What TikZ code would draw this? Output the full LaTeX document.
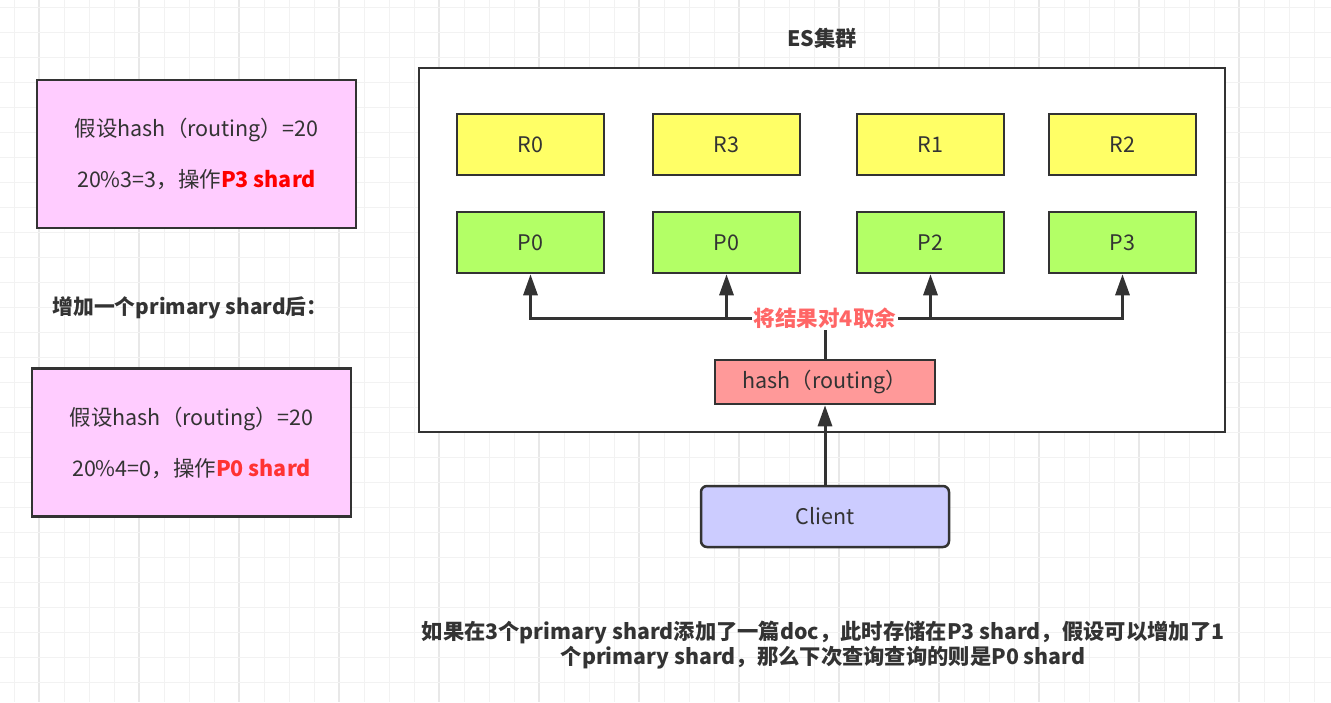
\documentclass[tikz,border=0pt]{standalone}
\usepackage{fontspec}
\setmainfont{Noto Sans CJK SC}
\usetikzlibrary{arrows.meta}
\definecolor{ink}{HTML}{333333}
\definecolor{gridminor}{HTML}{F2F2F2}
\definecolor{gridmajor}{HTML}{E8E8E8}
\definecolor{pinkfill}{HTML}{FFCCFF}
\definecolor{yellowfill}{HTML}{FFFF66}
\definecolor{greenfill}{HTML}{B3FF66}
\definecolor{hashfill}{HTML}{FF9999}
\definecolor{clientfill}{HTML}{CCCCFF}
\definecolor{labelred}{HTML}{FF6666}
\definecolor{redA}{HTML}{FF0000}
\definecolor{redB}{HTML}{FF3333}
\begin{document}
\begin{tikzpicture}[x=1pt,y=-1pt,
  every node/.style={text=ink, font=\fontsize{21.5}{25}\selectfont},
  box/.style={draw=ink, line width=2.5pt, inner sep=0pt, align=center},
  notebox/.style={box, fill=pinkfill, minimum width=319pt, minimum height=148pt,
    font=\fontsize{21.5}{51}\selectfont},
  shardR/.style={box, fill=yellowfill, minimum width=147pt, minimum height=61pt},
  shardP/.style={box, fill=greenfill, minimum width=147pt, minimum height=61pt},
  conn/.style={draw=ink, line width=3pt},
  arr/.style={conn, -{Triangle[length=21pt,width=14pt]}},
  boldtext/.style={font=\fontsize{21.3}{25.5}\selectfont\bfseries, align=center}
]
\useasboundingbox (0,0) rectangle (1331,702);
\fill[white] (0,0) rectangle (1331,702);
% grid
\foreach \k in {0,...,53} {
  \pgfmathsetmacro{\gx}{14+25*\k}
  \ifnum\numexpr\k-4*(\k/4)\relax=1
    \draw[gridmajor, line width=1.2pt] (\gx,0) -- (\gx,702);
  \else
    \draw[gridminor, line width=1pt] (\gx,0) -- (\gx,702);
  \fi
}
\foreach \k in {0,...,27} {
  \pgfmathsetmacro{\gy}{7+25*\k}
  \ifnum\numexpr\k-4*(\k/4)\relax=3
    \draw[gridmajor, line width=1.2pt] (0,\gy) -- (1331,\gy);
  \else
    \draw[gridminor, line width=1pt] (0,\gy) -- (1331,\gy);
  \fi
}

% left notes
\node[notebox] (note1) at (196.5,154)
  {假设hash（routing）=20\\20\%3=3，操作\textcolor{redA}{\bfseries P3 shard}};
\node[boldtext, font=\fontsize{20.8}{25}\selectfont\bfseries] (addtitle) at (190,308) {增加一个primary shard后：};
\node[notebox] (note2) at (191.5,442.5)
  {假设hash（routing）=20\\20\%4=0，操作\textcolor{redB}{\bfseries P0 shard}};

% cluster
\node[boldtext] (estitle) at (822,38) {ES集群};
\node[box, fill=white, minimum width=806pt, minimum height=364pt] (cluster) at (822,250) {};

\node[shardR] (r0) at (530.5,144.5) {R0};
\node[shardR] (r3) at (726.5,144.5) {R3};
\node[shardR] (r1) at (930.5,144.5) {R1};
\node[shardR] (r2) at (1122.5,144.5) {R2};

\node[shardP] (p0a) at (530.5,242.5) {P0};
\node[shardP] (p0b) at (726.5,242.5) {P0};
\node[shardP] (p2) at (930.5,242.5) {P2};
\node[shardP] (p3) at (1122.5,242.5) {P3};

\node[box, fill=hashfill, minimum width=220pt, minimum height=44pt] (hash) at (825,382) {hash（routing）};
\node[box, fill=clientfill, rounded corners=6pt, minimum width=248pt, minimum height=61pt] (client) at (825,516.5) {Client};

\coordinate (junc) at (825,318);
\draw[conn] (hash.north) -- (junc);
\draw[arr] (junc) -| (p0a.south);
\draw[arr] (junc) -| (p0b.south);
\draw[arr] (junc) -| (p2.south);
\draw[arr] (junc) -| (p3.south);
\node[fill=white, inner sep=2pt, text=labelred, font=\fontsize{21.5}{25}\selectfont\bfseries] (modlabel) at (junc) {将结果对4取余};

\draw[arr] (client.north) -- (hash.south);

% bottom note
\node[boldtext] (bottomnote) at (823,645)
  {如果在3个primary shard添加了一篇doc，此时存储在P3 shard，假设可以增加了1\\个primary shard，那么下次查询查询的则是P0 shard};
\end{tikzpicture}
\end{document}
